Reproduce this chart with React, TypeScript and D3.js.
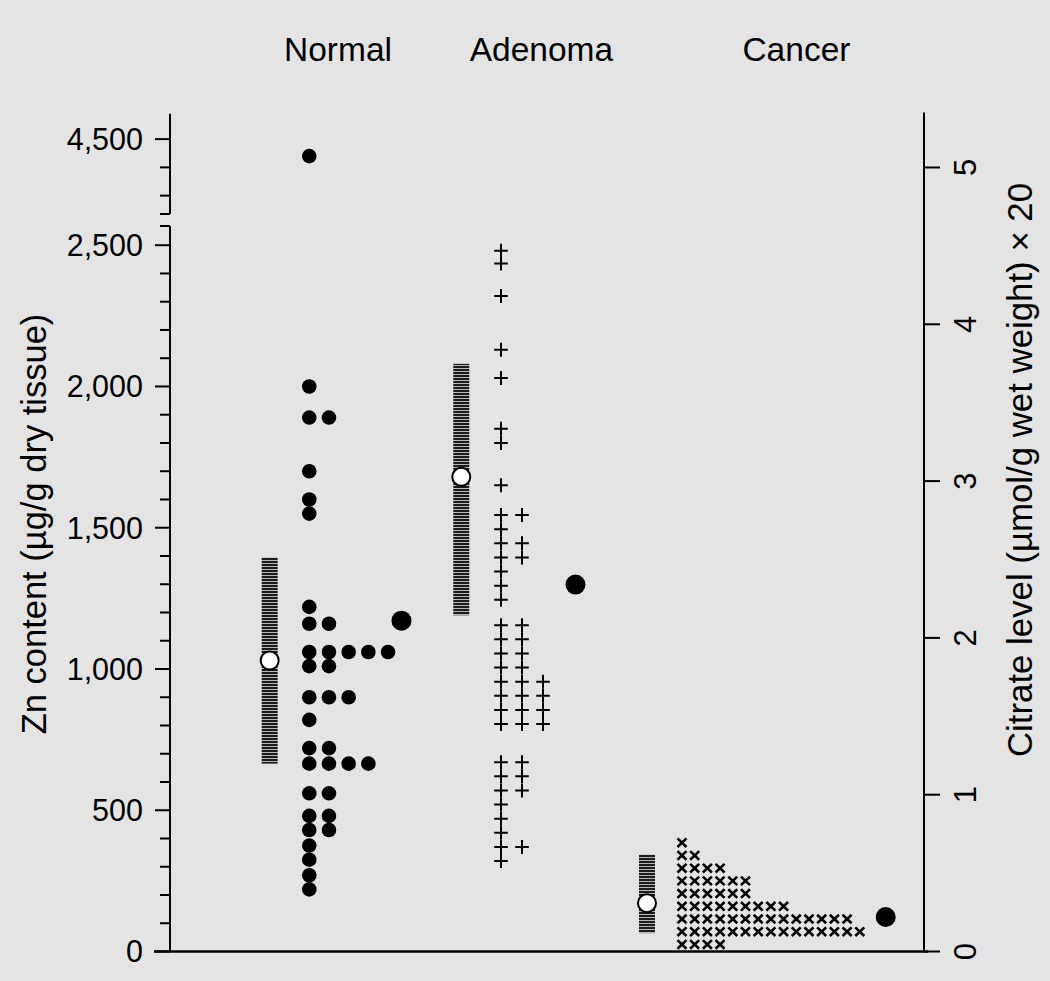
import React from "react";
import * as d3 from "d3";

// ---------- data ----------
const categories = ["Normal", "Adenoma", "Cancer"];

// Zn content (µg/g dry tissue), one entry per tissue sample
const normalZn = [
  4440, 2000, 1890, 1890, 1700, 1600, 1550, 1220, 1160, 1160,
  1060, 1060, 1060, 1060, 1060, 1010, 1010, 900, 900, 900, 820,
  720, 720, 665, 665, 665, 665, 560, 560, 480, 480, 430, 430,
  375, 325, 270, 220,
];
const adenomaZn = [
  2480, 2435, 2320, 2130, 2030, 1850, 1800, 1650, 1545, 1545, 1495,
  1445, 1445, 1395, 1395, 1345, 1295, 1245, 1155, 1155, 1105, 1105,
  1055, 1055, 1005, 1005, 955, 955, 955, 905, 905, 905, 855, 855, 855,
  805, 805, 805, 670, 670, 620, 620, 570, 570, 520, 470, 420, 370, 370, 320,
];
const cancerBins = [385, 340, 295, 250, 205, 160, 115, 70, 25];
const cancerCounts = [1, 2, 4, 6, 6, 9, 14, 15, 4];

const znMeans = [1030, 1680, 171];
const znLow = [665, 1190, 65];
const znHigh = [1395, 2080, 343];
const citrateMeans = [2.11, 2.34, 0.22];

const leftMajorTicks = [0, 500, 1000, 1500, 2000, 2500];
const leftUpperMajorTicks = [4500];
const leftUpperMinorTicks = [4300, 4400];
const rightTicks = [0, 1, 2, 3, 4, 5];

// ---------- layout ----------
const W = 1050;
const H = 981;
const axL = 170;
const axR = 924;
const base = 951.5;

const x = d3.scaleLinear().domain([0, 1]).range([axL, axR]);
const barPos = [0.1322, 0.3863, 0.6326];
const colStart = [0.1847, 0.439, 0.679];
const colStep = [19.7, 21, 12.7];
const citPos = [0.307, 0.5378, 0.9492];
const labelPos = [0.2228, 0.4926, 0.8308];

const yLow = d3.scaleLinear().domain([0, 2568]).range([base, 226]);
const yHigh = d3.scaleLinear().domain([4235, 4590]).range([214, 113.7]);
const yZn = (v: number) => (v >= 3000 ? yHigh(v) : yLow(v));
const yCit = d3.scaleLinear().domain([0, 5.35]).range([base, 112.6]);

const fmt = d3.format(",");
const FONT = "'Liberation Sans', Arial, Helvetica, sans-serif";
const INK = "#000";

function stack(values: number[]) {
  const seen = new Map<number, number>();
  return values.map((v) => {
    const c = seen.get(v) ?? 0;
    seen.set(v, c + 1);
    return { v, c };
  });
}

export default function App() {
  const lowerMinor = d3.range(100, 2501, 100).filter((v) => v % 500 !== 0);
  const normalPts = stack(normalZn);
  const adenomaPts = stack(adenomaZn);
  const cancerPts: { v: number; c: number }[] = [];
  cancerBins.forEach((b, i) => {
    d3.range(cancerCounts[i]).forEach((c) => cancerPts.push({ v: b, c }));
  });

  return (
    <svg
      width={W}
      height={H}
      viewBox={`0 0 ${W} ${H}`}
      style={{ position: "absolute", left: 0, top: 0, background: "#e4e4e4" }}
    >
      <defs>
        <pattern id="stripes" patternUnits="userSpaceOnUse" width="6" height="3">
          <rect x="0" y="0" width="6" height="3" fill="#1c1c1c" />
          <rect x="0" y="2.1" width="6" height="0.9" fill="#c8c8c8" />
        </pattern>
      </defs>
      <rect x={0} y={0} width={W} height={H} fill="#e4e4e4" />

      {/* category labels */}
      {categories.map((c, i) => (
        <text key={c} x={x(labelPos[i])} y={61} fontSize={33.5} fontFamily={FONT} textAnchor="middle" fill={INK}>
          {c}
        </text>
      ))}

      {/* left axis: lower segment */}
      <line x1={axL} x2={axL} y1={226} y2={base} stroke={INK} strokeWidth={2} />
      <line x1={axL - 10} x2={axL} y1={226} y2={226} stroke={INK} strokeWidth={2} />
      {leftMajorTicks.map((t) => (
        <g key={"lm" + t}>
          <line x1={axL - 15} x2={axL} y1={yLow(t)} y2={yLow(t)} stroke={INK} strokeWidth={2} />
          <text x={143} y={yLow(t)} dy="0.36em" fontSize={30.5} fontFamily={FONT} textAnchor="end" fill={INK}>
            {fmt(t)}
          </text>
        </g>
      ))}
      {lowerMinor.map((t) => (
        <line key={"ln" + t} x1={axL - 10} x2={axL} y1={yLow(t)} y2={yLow(t)} stroke={INK} strokeWidth={2} />
      ))}

      {/* left axis: upper segment */}
      <line x1={axL} x2={axL} y1={113.7} y2={214} stroke={INK} strokeWidth={2} />
      <line x1={axL - 10} x2={axL} y1={214} y2={214} stroke={INK} strokeWidth={2} />
      {leftUpperMajorTicks.map((t) => (
        <g key={"um" + t}>
          <line x1={axL - 15} x2={axL} y1={yHigh(t)} y2={yHigh(t)} stroke={INK} strokeWidth={2} />
          <text x={143} y={yHigh(t)} dy="0.36em" fontSize={30.5} fontFamily={FONT} textAnchor="end" fill={INK}>
            {fmt(t)}
          </text>
        </g>
      ))}
      {leftUpperMinorTicks.map((t) => (
        <line key={"un" + t} x1={axL - 10} x2={axL} y1={yHigh(t)} y2={yHigh(t)} stroke={INK} strokeWidth={2} />
      ))}

      {/* left title */}
      <text
        transform={`translate(34, 524) rotate(-90)`}
        dy="0.35em"
        fontSize={34.5}
        fontFamily={FONT}
        textAnchor="middle"
        fill={INK}
      >
        Zn content (µg/g dry tissue)
      </text>

      {/* right axis */}
      <line x1={axR} x2={axR} y1={yCit(5.35)} y2={base} stroke={INK} strokeWidth={2} />
      {rightTicks.map((t) => (
        <g key={"r" + t}>
          <line x1={axR} x2={axR + 16} y1={yCit(t)} y2={yCit(t)} stroke={INK} strokeWidth={2} />
          <text
            transform={`translate(965, ${yCit(t)}) rotate(-90)`}
            dy="0.36em"
            fontSize={31}
            fontFamily={FONT}
            textAnchor="middle"
            fill={INK}
          >
            {t}
          </text>
        </g>
      ))}
      <text
        transform={`translate(1020, 470) rotate(-90)`}
        dy="0.35em"
        fontSize={34.8}
        fontFamily={FONT}
        textAnchor="middle"
        fill={INK}
      >
        Citrate level (µmol/g wet weight) × 20
      </text>

      {/* bottom axis */}
      <line x1={154} x2={928} y1={base} y2={base} stroke={INK} strokeWidth={2.5} />

      {/* mean ± SD bars */}
      {znMeans.map((m, i) => (
        <g key={"bar" + i}>
          <rect
            x={x(barPos[i]) - 8}
            width={16}
            y={yZn(znHigh[i])}
            height={yZn(znLow[i]) - yZn(znHigh[i])}
            fill="url(#stripes)"
          />
          <circle cx={x(barPos[i])} cy={yZn(m)} r={9} fill="#fff" stroke={INK} strokeWidth={2} />
        </g>
      ))}

      {/* Normal: dots */}
      {normalPts.map((p, i) => (
        <circle key={"n" + i} cx={x(colStart[0]) + p.c * colStep[0]} cy={yZn(p.v)} r={7.3} fill={INK} />
      ))}

      {/* Adenoma: plus markers */}
      {adenomaPts.map((p, i) => (
        <path
          key={"a" + i}
          transform={`translate(${x(colStart[1]) + p.c * colStep[1]}, ${yZn(p.v)})`}
          d="M-6.8,0H6.8M0,-7V7"
          stroke={INK}
          strokeWidth={2}
          fill="none"
        />
      ))}

      {/* Cancer: x markers */}
      {cancerPts.map((p, i) => (
        <path
          key={"c" + i}
          transform={`translate(${x(colStart[2]) + p.c * colStep[2]}, ${yZn(p.v)})`}
          d="M-4.5,-4.3L4.5,4.3M-4.5,4.3L4.5,-4.3"
          stroke={INK}
          strokeWidth={2.6}
          fill="none"
        />
      ))}

      {/* citrate means (right axis) */}
      {citrateMeans.map((c, i) => (
        <circle key={"cit" + i} cx={x(citPos[i])} cy={yCit(c)} r={10} fill={INK} />
      ))}
    </svg>
  );
}
